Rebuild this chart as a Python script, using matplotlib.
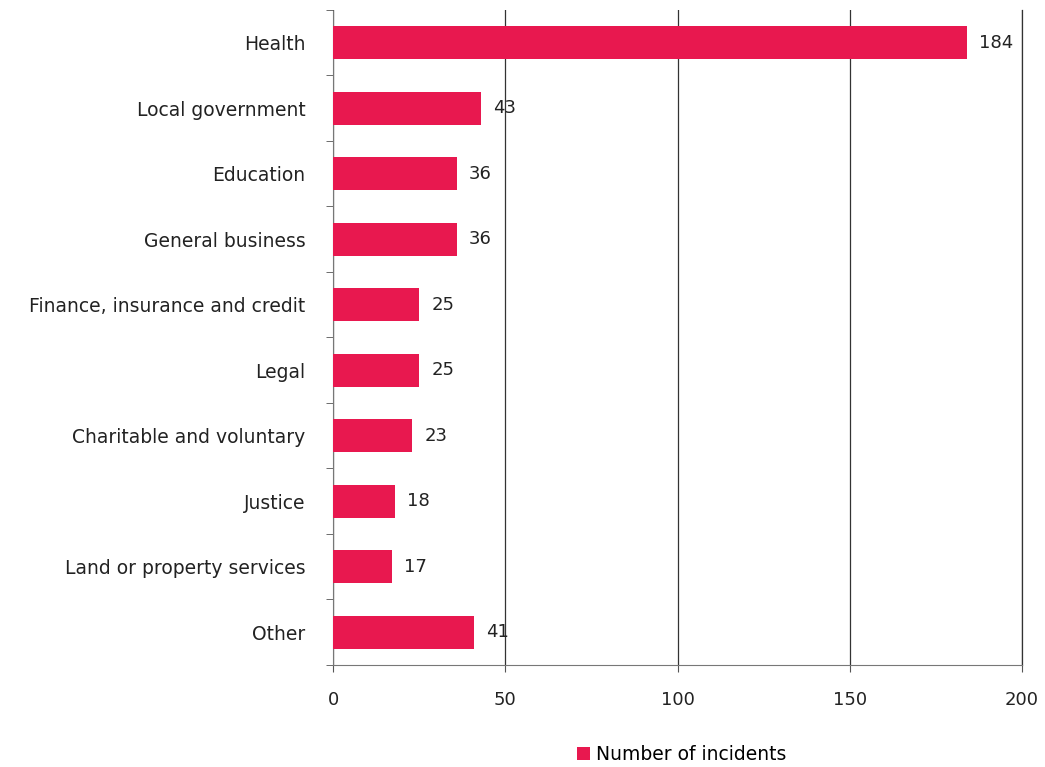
import matplotlib.pyplot as plt

categories = ['Health', 'Local government', 'Education', 'General business',
              'Finance, insurance and credit', 'Legal', 'Charitable and voluntary',
              'Justice', 'Land or property services', 'Other']
incidents = [184, 43, 36, 36, 25, 25, 23, 18, 17, 41]
xticks = [0, 50, 100, 150, 200]

bar_color = '#e8184f'

fig = plt.figure(figsize=(10.45, 7.67), dpi=100)
ax = fig.add_axes([0.3187, 0.133, 0.6593, 0.854])

y = list(range(len(categories)))
bars = ax.barh(y, incidents, height=0.5, color=bar_color, label='Number of incidents', zorder=3)
ax.set_ylim(len(categories) - 0.5, -0.5)
ax.set_xlim(0, 200)
ax.set_yticks(y)
ax.set_yticklabels(categories, fontsize=13.5, color='#222222')
ax.set_xticks(xticks)
ax.set_xticklabels([str(t) for t in xticks], fontsize=13, color='#222222')
ax.tick_params(axis='x', pad=14, length=5, color='#555555')
ax.tick_params(axis='y', pad=20, length=0)
ax.set_yticks([i + 0.5 for i in range(-1, len(categories))], minor=True)
ax.tick_params(axis='y', which='minor', length=5, color='#555555')

ax.grid(axis='x', color='#333333', linewidth=0.9, zorder=0)
ax.spines['top'].set_visible(False)
ax.spines['right'].set_color('#333333')
ax.spines['right'].set_linewidth(0.9)
ax.spines['left'].set_color('#777777')
ax.spines['left'].set_linestyle((0, (4, 1)))
ax.spines['bottom'].set_color('#777777')
ax.spines['bottom'].set_linestyle((0, (4, 1)))

for rect, val in zip(bars, incidents):
    ax.text(rect.get_width() + 3.5, rect.get_y() + rect.get_height() / 2, str(val),
            va='center', ha='left', fontsize=13, color='#222222', zorder=4)

fig.legend(handles=[bars], labels=['Number of incidents'], loc='lower center',
           bbox_to_anchor=(0.652, -0.018), frameon=False, fontsize=13.5,
           handlelength=0.7, handleheight=0.7, handletextpad=0.3)

fig.savefig('out.png', dpi=100)
